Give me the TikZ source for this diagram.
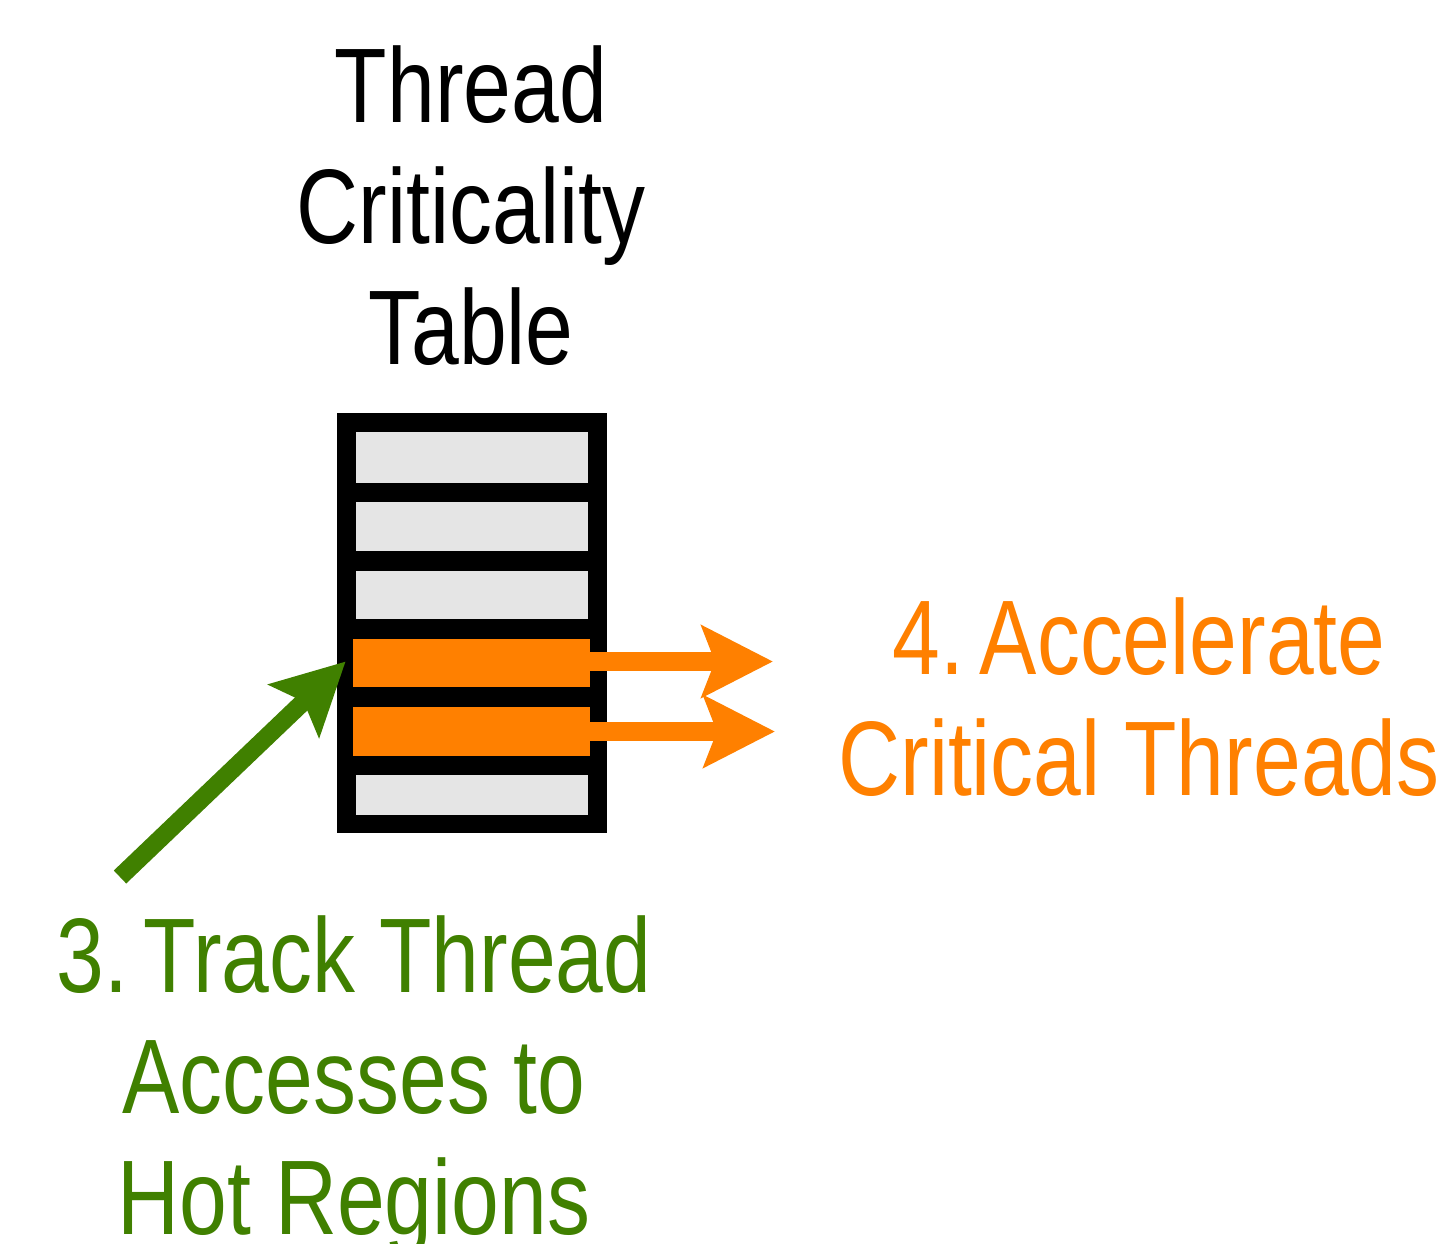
\documentclass[tikz,border=0pt]{standalone}
\usepackage{fontspec}
\setmainfont{Liberation Sans}[FakeStretch=0.81]
\usetikzlibrary{arrows.meta,calc}

\definecolor{tctorange}{RGB}{255,128,0}
\definecolor{tctgreen}{RGB}{64,128,0}
\definecolor{tctgray}{RGB}{229,229,229}

\begin{document}
\begin{tikzpicture}[x=0.5pt,y=-0.5pt,
  bigtext/.style={inner sep=0pt,anchor=north,align=center,
    font=\fontsize{53pt}{60.5pt}\selectfont},
  cell/.style={rectangle,inner sep=0pt,draw=none,fill=tctgray},
  hotcell/.style={rectangle,inner sep=0pt,draw=none,fill=tctorange},
  accel/.style={draw=tctorange,line width=9.5pt,line cap=butt,
    -{Stealth[length=35.5pt,width=35.5pt,inset=6.5pt]}},
  track/.style={draw=tctgreen,line width=9pt,line cap=butt,
    -{Stealth[length=35.5pt,width=36pt,inset=6.5pt]}}]

\useasboundingbox (0,0) rectangle (1449,1243);

% title of the table
\node[bigtext] (title) at (471,45) {Thread\\Criticality\\Table};

% table frame and its rows
\node[rectangle,fill=black,inner sep=0pt,minimum width=135pt,minimum height=210pt] (table) at (472,623) {};
\node[cell,minimum width=116pt,minimum height=25.5pt] (row1) at (472,457.5) {};
\node[cell,minimum width=116pt,minimum height=24.5pt] (row2) at (472,526.5) {};
\node[cell,minimum width=116pt,minimum height=24pt] (row3) at (472,595) {};
\node[hotcell,minimum width=118.5pt,minimum height=24pt] (row4) at (471.5,662.5) {};
\node[hotcell,minimum width=118.5pt,minimum height=24.5pt] (row5) at (471.5,731.5) {};
\node[cell,minimum width=116pt,minimum height=20pt] (row6) at (472,795) {};

% acceleration arrows
\coordinate (acc1) at (773,661.5);
\coordinate (acc2) at (775,731.5);
\draw[accel] ($(row4.east)+(0,-1)$) -- (acc1);
\draw[accel] (row5.east) -- (acc2);

% tracking arrow
\coordinate (trackfoot) at (120,877);
\coordinate (tracktip) at ($(row4.west)+(-7,-1)$);
\draw[track] (trackfoot) -- (tracktip);

% step labels
\node[bigtext,text=tctorange] (accellabel) at (1139,597) {4.\kern-4pt\ Accelerate\\Critical Threads};
\node[bigtext,text=tctgreen] (tracklabel) at (354,915) {3.\kern-4pt\ Track Thread\\Accesses to\\Hot Regions};

\end{tikzpicture}
\end{document}
